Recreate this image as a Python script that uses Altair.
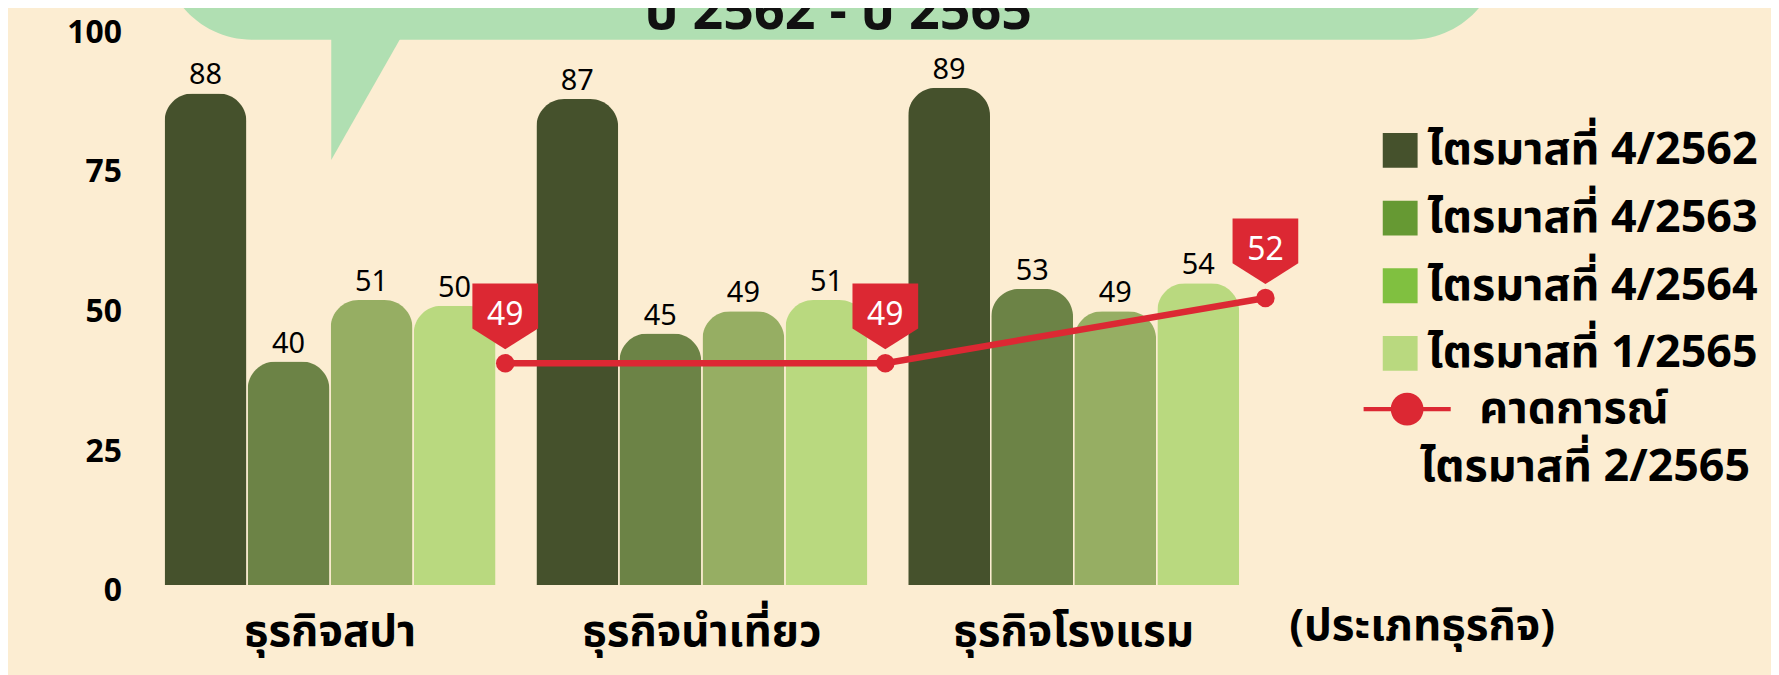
import altair as alt
import pandas as pd

# ---------------- data ----------------
BUSINESSES = ["ธุรกิจสปา", "ธุรกิจนำเที่ยว", "ธุรกิจโรงแรม"]
PERIODS = ["ไตรมาสที่ 4/2562", "ไตรมาสที่ 4/2563", "ไตรมาสที่ 4/2564", "ไตรมาสที่ 1/2565"]
Q4_2562 = [88, 87, 89]
Q4_2563 = [40, 45, 53]
Q4_2564 = [51, 49, 49]
Q1_2565 = [50, 51, 54]
FORECAST_Q2_2565 = [49, 49, 52]
FORECAST_LABEL = "คาดการณ์"
FORECAST_PERIOD = "ไตรมาสที่ 2/2565"
TITLE_LINES = ["ปี 2562 - ปี 2565"]
X_TITLE = "(ประเภทธุรกิจ)"
Y_TICKS = [0, 25, 50, 75, 100]
FORECAST_AXIS_RANGE = [38.8, 64.5]   # hidden secondary axis of the forecast line

# ---------------- style ----------------
FONT = "Noto Sans Thai, Noto Sans, sans-serif"
BG = "#fcedd2"
BUBBLE = "#b0dfb2"
RED = "#dc2833"
BAR_COLORS = ["#45512c", "#6c8346", "#96ae63", "#b9d97f"]
LEGEND_COLORS = ["#45512c", "#669933", "#80c040", "#b9d97f"]
FLAG_PATH = "M-1,-1H1V0.364L0,1L-1,0.364Z"
LINE_SYMBOL = ("M-2.5,-0.12H2.5V0.12H-2.5Z"
               "M0.94,0A0.94,0.94,0,1,1,-0.94,0A0.94,0.94,0,1,1,0.94,0Z")
TAIL_PATH = "M-1,-1.15L-1,1L0.223,-1.15Z"

W, H = 1150, 561

series = [Q4_2562, Q4_2563, Q4_2564, Q1_2565]
bars_df = pd.DataFrame(
    [{"business": b, "period": p, "value": vals[i]}
     for p, vals in zip(PERIODS, series) for i, b in enumerate(BUSINESSES)]
)
line_df = pd.DataFrame({"business": BUSINESSES, "forecast": FORECAST_Q2_2565})
legend_df = pd.DataFrame({"entry": PERIODS})
legend_fc_df = pd.DataFrame({"entry": [FORECAST_LABEL]})
title_df = pd.DataFrame({"line": TITLE_LINES})

# ---------------- scales / encodings ----------------
x_band = alt.Scale(domain=BUSINESSES, paddingInner=0.11, paddingOuter=0.0945)
y_lin = alt.Scale(domain=[0, 100], nice=False, zero=True)
off_scale = alt.Scale(domain=PERIODS, paddingInner=0.015, paddingOuter=0)

x_axis = alt.Axis(
    labelFont=FONT, labelFontSize=44, labelFontWeight="bold", labelColor="black",
    labelAngle=0, labelBaseline="middle", labelPadding=48, labelLimit=0,
    ticks=False, tickSize=0, domain=False, grid=False,
    titleFont=FONT, titleFontSize=44, titleFontWeight="bold", titleColor="black",
    titleX=W + 148, titleY=42, titleAlign="center", titleBaseline="middle", titleLimit=0,
)
y_axis = alt.Axis(
    values=Y_TICKS, labelFont=FONT, labelFontSize=32, labelFontWeight="bold",
    labelColor="black", labelPadding=8, labelOffset=6, ticks=False, tickSize=0,
    domain=False, grid=False, title=None,
)
X_ENC = alt.X("business:N", scale=x_band, sort=BUSINESSES, axis=x_axis, title=X_TITLE)
Y_ENC = alt.Y("value:Q", scale=y_lin, axis=y_axis, title=None)
OFF_ENC = alt.XOffset("period:N", scale=off_scale, sort=PERIODS)

bars = alt.Chart(bars_df).mark_bar(
    cornerRadiusTopLeft=28, cornerRadiusTopRight=28
).encode(
    x=X_ENC, xOffset=OFF_ENC, y=Y_ENC,
    color=alt.Color("period:N", scale=alt.Scale(domain=PERIODS, range=BAR_COLORS), legend=None),
)
bar_text = alt.Chart(bars_df).mark_text(
    font=FONT, fontSize=29, color="black", baseline="middle", dy=-18
).encode(x=X_ENC, xOffset=OFF_ENC, y=Y_ENC, text="value:Q")
bar_layer = alt.layer(bars, bar_text)

# forecast line on its own point scale / secondary value axis
x_pt = alt.Scale(type="point", domain=BUSINESSES, padding=0.506, align=0.977)
y_fc = alt.Scale(domain=FORECAST_AXIS_RANGE, nice=False, zero=False)
LX = alt.X("business:N", scale=x_pt, sort=BUSINESSES, axis=None)
LY = alt.Y("forecast:Q", scale=y_fc, axis=None)
line = alt.Chart(line_df).mark_line(color=RED, strokeWidth=6.5).encode(x=LX, y=LY)
dots = alt.Chart(line_df).mark_circle(color=RED, size=346, opacity=1).encode(x=LX, y=LY)
flags = alt.Chart(line_df).mark_point(
    shape=FLAG_PATH, filled=True, color=RED, size=4356, opacity=1, yOffset=-47
).encode(x=LX, y=LY)
flag_text = alt.Chart(line_df).mark_text(
    font=FONT, fontSize=32, color="white", baseline="middle", yOffset=-48
).encode(x=LX, y=LY, text="forecast:Q")
line_layer = alt.layer(line, dots, flags, flag_text)

# legends (drawn by Vega-Lite from empty proxy layers)
LEG_FONT = dict(labelFont=FONT, labelFontSize=45, labelFontWeight="bold", labelColor="black",
                labelLimit=0, symbolSize=1225, symbolStrokeWidth=0, padding=0)
leg_q = alt.Legend(orient="none", legendX=1254, legendY=102, title=None,
                   labelOffset=5, rowPadding=22, **LEG_FONT)
proxy_q = alt.Chart(legend_df).mark_point(filled=True, opacity=1, shape="square").encode(
    color=alt.Color("entry:N", scale=alt.Scale(domain=PERIODS, range=LEGEND_COLORS), legend=leg_q),
).transform_filter("false")

TRAIL = "\u00a0" * 7 + "\u200b"
leg_fc = alt.Legend(orient="none", legendX=1261, legendY=362, title=FORECAST_PERIOD,
                    titleOrient="bottom", titleAnchor="end", titleFont=FONT,
                    titleFontSize=45, titleFontWeight="bold", titleColor="black",
                    titlePadding=13, titleLimit=0, labelOffset=50,
                    labelExpr=f"datum.label + '{TRAIL}'", **LEG_FONT)
proxy_fc = alt.Chart(legend_fc_df).mark_point(filled=True, opacity=1).encode(
    color=alt.Color("entry:N", scale=alt.Scale(domain=[FORECAST_LABEL], range=[RED]), legend=leg_fc),
    shape=alt.Shape("entry:N", scale=alt.Scale(domain=[FORECAST_LABEL], range=[LINE_SYMBOL]), legend=leg_fc),
).transform_filter("false")

# speech-bubble decoration with the (cropped) title line
bubble = alt.Chart(title_df).mark_rect(color=BUBBLE, cornerRadius=90).encode(
    x=alt.value(33), x2=alt.value(1377), y=alt.value(-170), y2=alt.value(13.3)
)
tail = alt.Chart(title_df).mark_point(
    shape=TAIL_PATH, filled=True, color=BUBBLE, size=14714, opacity=1
).encode(x=alt.value(263.35), y=alt.value(73.65))
title_text = alt.Chart(title_df).mark_text(
    font=FONT, fontSize=54, fontWeight="bold", color="#111111", align="center", baseline="alphabetic"
).encode(x=alt.value(712), y=alt.value(3), text="line:N")

chart = alt.layer(
    bubble, tail, title_text, bar_layer, line_layer, proxy_q, proxy_fc
).resolve_scale(
    x="independent", y="independent", color="independent", shape="independent"
).properties(
    width=W, height=H, background=BG,
    autosize=alt.AutoSizeParams(type="none"),
    padding={"left": 122, "top": 17, "right": 499, "bottom": 89},
).configure_view(stroke=None)

chart.save("out.html", embed_options={"renderer": "svg", "actions": False})
